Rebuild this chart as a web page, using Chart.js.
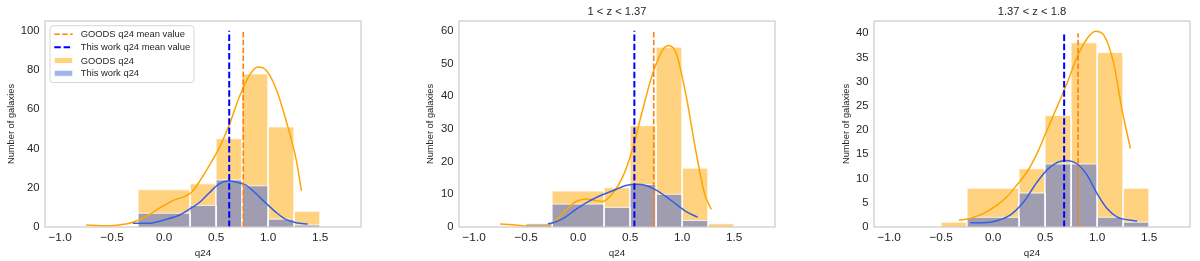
<!DOCTYPE html>
<html><head><meta charset="utf-8">
<script src="https://cdn.jsdelivr.net/npm/chart.js@4.4.1/dist/chart.umd.min.js"></script>
<style>
html,body{margin:0;padding:0;background:#fff;width:1200px;height:261px;overflow:hidden;}
canvas{position:absolute;top:0;}
</style></head><body>
<canvas id="c1" style="left:0px" width="368" height="261"></canvas>
<canvas id="c2" style="left:415px" width="367" height="261"></canvas>
<canvas id="c3" style="left:830px" width="370" height="261"></canvas>
<script>
// ---------- data ----------
const panelTitles = [null, '1 < z < 1.37', '1.37 < z < 1.8'];
const legendLabels = ['GOODS q24 mean value', 'This work q24 mean value', 'GOODS q24', 'This work q24'];
const xAxisLabel = 'q24';
const yAxisLabel = 'Number of galaxies';

// tick labels
const xTickValues = [-1.0, -0.5, 0.0, 0.5, 1.0, 1.5];
const yTickValuesAll = [0, 20, 40, 60, 80, 100];
const yTickValuesLowZ = [0, 10, 20, 30, 40, 50, 60];
const yTickValuesHighZ = [0, 5, 10, 15, 20, 25, 30, 35, 40];

// histogram bin edges (q24)
const binEdges = [-0.5, -0.25, 0.25, 0.5, 0.75, 1.0, 1.25, 1.5];

// counts per bin: all redshifts
const goodsCountsAll = [0, 19, 22, 45, 78, 51, 8];
const workCountsAll  = [0, 7, 11, 24, 21, 4, 1];
// 1 < z < 1.37
const goodsCountsLowZ = [0, 11, 12, 31, 55, 18, 1];
const workCountsLowZ  = [1, 7, 6, 13, 10, 2, 0];
// 1.37 < z < 1.8
const goodsCountsHighZ = [1, 8, 12, 23, 38, 36, 8];
const workCountsHighZ  = [0, 2, 7, 13, 13, 2, 1];

// KDE curves
const goodsKdeAllX = [-0.75, -0.6, -0.45, -0.3, -0.15, -0.05, 0.0, 0.1, 0.2, 0.27, 0.34, 0.43, 0.53, 0.63, 0.72, 0.82, 0.9, 0.98, 1.08, 1.17, 1.27, 1.32];
const goodsKdeAllY = [1.0, 0.6, 0.9, 2.4, 6.0, 9.5, 11, 13.8, 15.6, 18.0, 23.2, 30.9, 40.3, 52.5, 65.9, 77.3, 81.6, 80, 70, 54.8, 34.3, 18.6];
const workKdeAllX = [-0.3, -0.15, 0.0, 0.15, 0.24, 0.34, 0.43, 0.53, 0.61, 0.69, 0.79, 0.88, 0.98, 1.08, 1.17, 1.27, 1.38];
const workKdeAllY = [1.9, 1.9, 3.6, 6.1, 9.0, 12.5, 17.2, 22.0, 23.4, 22.9, 21.2, 17.2, 12.1, 7.3, 3.9, 2.2, 1.5];

const goodsKdeLowZX = [-0.75, -0.63, -0.5, -0.31, -0.21, -0.115, -0.02, 0.077, 0.17, 0.237, 0.333, 0.43, 0.526, 0.62, 0.718, 0.814, 0.87, 0.942, 1.04, 1.13, 1.215, 1.28];
const goodsKdeLowZY = [0.9, 0.7, 0.3, 0.3, 2.1, 5.2, 7.8, 8.6, 8.1, 7.8, 10.3, 15.4, 24.1, 35.8, 47, 54.2, 55.5, 53.2, 39.9, 23.6, 10.3, 5.4];
const workKdeLowZX = [-0.29, -0.21, -0.115, -0.02, 0.077, 0.205, 0.333, 0.46, 0.558, 0.654, 0.75, 0.846, 0.942, 1.04, 1.15];
const workKdeLowZY = [1.0, 1.6, 3.2, 5.4, 7.4, 9.5, 11.1, 12.7, 13.1, 12.7, 11.3, 9.3, 7.0, 4.7, 3.0];

const goodsKdeHighZX = [-0.33, -0.218, -0.09, 0.038, 0.135, 0.23, 0.327, 0.423, 0.519, 0.615, 0.71, 0.808, 0.904, 0.984, 1.064, 1.16, 1.24, 1.32];
const goodsKdeHighZY = [1.4, 1.8, 2.8, 4.5, 6.3, 8.7, 11.4, 15.2, 20, 24.8, 29.6, 35.1, 38.9, 40.4, 39.6, 33.7, 24.1, 16.2];
const workKdeHighZX = [-0.218, -0.09, 0.038, 0.167, 0.295, 0.423, 0.551, 0.696, 0.808, 0.904, 1.0, 1.096, 1.19, 1.385];
const workKdeHighZY = [0.9, 0.9, 1.3, 2.5, 5.2, 9.3, 12.4, 13.7, 13.0, 10.7, 6.9, 3.8, 2.1, 1.2];

// mean values and the height of the mean lines
const goodsMeans = [0.761, 0.727, 0.817];
const workMeans  = [0.626, 0.541, 0.683];
const meanLineTops = [100, 60, 40];

// axis ranges
const xMin = -1.145, xMax = 1.893;
const yMaxes = [105, 63, 42.5];

// ---------- styling ----------
const FONT = "'Liberation Sans', Arial, Helvetica, sans-serif";
const TXT = '#262626';
Chart.defaults.font.family = FONT;
Chart.defaults.color = TXT;

const C_GOODS_FILL = 'rgba(255,165,0,0.5)';
const C_WORK_FILL = 'rgba(65,105,225,0.5)';
const C_EDGE = 'rgba(255,255,255,0.8)';
const C_GOODS_KDE = '#ffa500';
const C_WORK_KDE = '#3360e0';
const C_GOODS_MEAN = '#ff7f0e';
const C_WORK_MEAN = '#0000ff';

function histPoints(edges, counts) {
  const pts = [];
  counts.forEach((c, i) => {
    if (!c) return;
    const a = edges[i], b = edges[i + 1];
    pts.push({x: a, y: 0}, {x: a, y: c}, {x: b, y: c}, {x: b, y: 0}, {x: b, y: null});
  });
  return pts;
}
function curvePoints(xs, ys) { return xs.map((x, i) => ({x: x, y: ys[i]})); }
function vline(x, top) { return [{x: x, y: 0}, {x: x, y: top}]; }
function fmtX(v) {
  const s = Math.abs(v).toFixed(1);
  return (v < -1e-9 ? '\u2212' : '') + s;
}

const framePlugin = {
  id: 'frame',
  afterDraw(chart) {
    const {ctx, chartArea: a} = chart;
    ctx.save();
    ctx.strokeStyle = '#cccccc';
    ctx.lineWidth = 1.25;
    ctx.strokeRect(a.left, a.top, a.right - a.left, a.bottom - a.top);
    ctx.restore();
  }
};

const boxLegendPlugin = {
  id: 'boxLegend',
  afterDraw(chart, args, opts) {
    if (!opts || !opts.show) return;
    const {ctx, chartArea: a} = chart;
    const x0 = a.left + 5, y0 = a.top + 4.7, w = 144, h = 56.8, r = 3;
    ctx.save();
    ctx.beginPath();
    ctx.moveTo(x0 + r, y0);
    ctx.lineTo(x0 + w - r, y0); ctx.arcTo(x0 + w, y0, x0 + w, y0 + r, r);
    ctx.lineTo(x0 + w, y0 + h - r); ctx.arcTo(x0 + w, y0 + h, x0 + w - r, y0 + h, r);
    ctx.lineTo(x0 + r, y0 + h); ctx.arcTo(x0, y0 + h, x0, y0 + h - r, r);
    ctx.lineTo(x0, y0 + r); ctx.arcTo(x0, y0, x0 + r, y0, r);
    ctx.closePath();
    ctx.fillStyle = 'rgba(255,255,255,0.8)';
    ctx.fill();
    ctx.strokeStyle = '#d6d6d6';
    ctx.lineWidth = 1;
    ctx.stroke();
    const rows = [8.6, 21.6, 34.8, 47.6];
    const sx0 = x0 + 4.3, sx1 = x0 + 22.7;
    const dashes = [[C_GOODS_MEAN, 1.6, [5.5, 2.4]], [C_WORK_MEAN, 2.0, [6.5, 2.8]]];
    for (let i = 0; i < 2; i++) {
      ctx.beginPath();
      ctx.strokeStyle = dashes[i][0];
      ctx.lineWidth = dashes[i][1];
      ctx.setLineDash(dashes[i][2]);
      ctx.moveTo(sx0, y0 + rows[i]);
      ctx.lineTo(sx1, y0 + rows[i]);
      ctx.stroke();
    }
    ctx.setLineDash([]);
    const fills = [C_GOODS_FILL, C_WORK_FILL];
    for (let i = 0; i < 2; i++) {
      const cy = y0 + rows[i + 2];
      ctx.fillStyle = fills[i];
      ctx.fillRect(sx0, cy - 3, sx1 - sx0, 6);
      ctx.strokeStyle = C_EDGE;
      ctx.lineWidth = 1;
      ctx.strokeRect(sx0, cy - 3, sx1 - sx0, 6);
    }
    ctx.fillStyle = TXT;
    ctx.font = '9.4px ' + FONT;
    ctx.textBaseline = 'middle';
    ctx.textAlign = 'left';
    legendLabels.forEach((t, i) => ctx.fillText(t, x0 + 30.7, y0 + rows[i] + 0.5));
    ctx.restore();
  }
};

const panelData = [
  {goods: goodsCountsAll, work: workCountsAll, gk: [goodsKdeAllX, goodsKdeAllY], wk: [workKdeAllX, workKdeAllY], yTicks: yTickValuesAll},
  {goods: goodsCountsLowZ, work: workCountsLowZ, gk: [goodsKdeLowZX, goodsKdeLowZY], wk: [workKdeLowZX, workKdeLowZY], yTicks: yTickValuesLowZ},
  {goods: goodsCountsHighZ, work: workCountsHighZ, gk: [goodsKdeHighZX, goodsKdeHighZY], wk: [workKdeHighZX, workKdeHighZY], yTicks: yTickValuesHighZ}
];
const layoutCfg = [
  {id: 'c1', yW: 45, yTitlePad: 6.1, padRight: 7},
  {id: 'c2', yW: 44, yTitlePad: 10.1, padRight: 7},
  {id: 'c3', yW: 44, yTitlePad: 10.4, padRight: 10}
];

panelData.forEach((p, k) => {
  const L = layoutCfg[k];
  const hasTitle = !!panelTitles[k];
  const datasets = [
    {label: legendLabels[1], data: vline(workMeans[k], meanLineTops[k]), borderColor: C_WORK_MEAN, borderWidth: 2.0, borderDash: [6.5, 2.8], fill: false, order: 0},
    {label: legendLabels[0], data: vline(goodsMeans[k], meanLineTops[k]), borderColor: C_GOODS_MEAN, borderWidth: 1.6, borderDash: [5.5, 2.4], fill: false, order: 1},
    {label: 'work kde', data: curvePoints(p.wk[0], p.wk[1]), borderColor: C_WORK_KDE, borderWidth: 1.5, fill: false, cubicInterpolationMode: 'monotone', order: 2},
    {label: 'goods kde', data: curvePoints(p.gk[0], p.gk[1]), borderColor: C_GOODS_KDE, borderWidth: 1.5, fill: false, cubicInterpolationMode: 'monotone', order: 3},
    {label: legendLabels[3], data: histPoints(binEdges, p.work), borderColor: C_EDGE, borderWidth: 1, backgroundColor: C_WORK_FILL, fill: 'origin', tension: 0, spanGaps: false, order: 4},
    {label: legendLabels[2], data: histPoints(binEdges, p.goods), borderColor: C_EDGE, borderWidth: 1, backgroundColor: C_GOODS_FILL, fill: 'origin', tension: 0, spanGaps: false, order: 5}
  ];
  new Chart(document.getElementById(L.id), {
    type: 'line',
    data: {datasets},
    options: {
      responsive: false,
      animation: false,
      devicePixelRatio: 1,
      layout: {padding: {top: hasTitle ? 0 : 21, right: L.padRight, left: 0, bottom: 0}},
      elements: {point: {radius: 0, hoverRadius: 0}},
      plugins: {
        legend: {display: false},
        tooltip: {enabled: false},
        title: {
          display: hasTitle, text: panelTitles[k] || '', fullSize: false,
          color: TXT, font: {size: 11.2, weight: 'normal', family: FONT},
          padding: {top: 5.6, bottom: 2.0}
        },
        boxLegend: {show: k === 0}
      },
      scales: {
        x: {
          type: 'linear', min: xMin, max: xMax, bounds: 'data',
          grid: {display: false, drawTicks: false},
          border: {display: false},
          afterBuildTicks(s) { s.ticks = xTickValues.map(v => ({value: v})); },
          ticks: {padding: 3.5, color: TXT, font: {size: 11.8}, callback: v => fmtX(v), maxRotation: 0, minRotation: 0, autoSkip: false},
          title: {display: true, text: xAxisLabel, color: TXT, font: {size: 9.8}, padding: {top: 0, bottom: 1.6}},
          afterFit(s) { s.height = 34; }
        },
        y: {
          type: 'linear', min: 0, max: yMaxes[k], bounds: 'data',
          grid: {display: false, drawTicks: false},
          border: {display: false},
          afterBuildTicks(s) { s.ticks = p.yTicks.map(v => ({value: v})); },
          ticks: {padding: 5.5, color: TXT, font: {size: 11.3}, callback: v => String(Math.round(v)), autoSkip: false},
          title: {display: true, text: yAxisLabel, color: TXT, font: {size: 9.3}, padding: {top: L.yTitlePad, bottom: 0}},
          afterFit(s) { s.width = L.yW; }
        }
      }
    },
    plugins: [framePlugin, boxLegendPlugin]
  });
});
</script>
</body></html>
